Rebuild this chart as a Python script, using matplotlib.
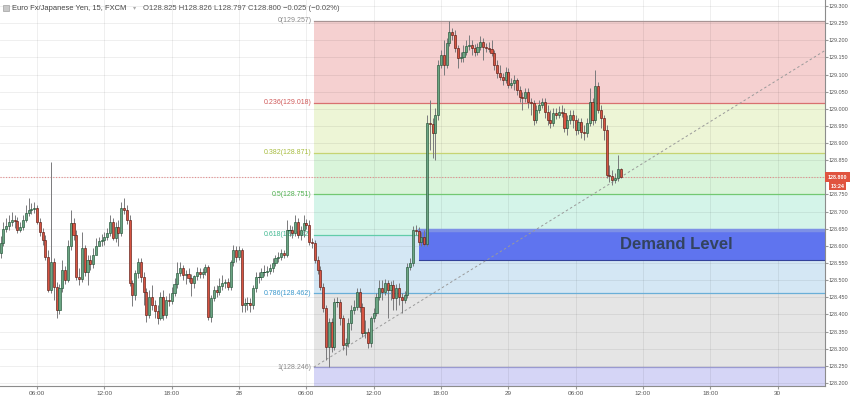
import matplotlib
matplotlib.use("Agg")
import matplotlib.pyplot as plt
import matplotlib.transforms as mtransforms
from matplotlib.collections import LineCollection
from matplotlib.patches import Rectangle
import pandas as pd

plt.rcParams['font.family'] = ['Liberation Sans', 'DejaVu Sans']

# ---------------- data ----------------
symbol_title = "Euro Fx/Japanese Yen, 15, FXCM"
ohlc_text = "O128.825  H128.826  L128.797  C128.800  \u22120.025 (\u22120.02%)"
first_bar = "2000-01-27 02:45"
bar_minutes = 15

opens = [
    128.579, 128.608, 128.649, 128.658, 128.670, 128.675, 128.673, 128.646, 128.655, 128.675,
    128.696, 128.705, 128.708, 128.710, 128.670, 128.641, 128.617, 128.568, 128.471, 128.553,
    128.480, 128.413, 128.477, 128.530, 128.500, 128.600, 128.667, 128.632, 128.509, 128.503,
    128.594, 128.524, 128.559, 128.547, 128.573, 128.600, 128.614, 128.617, 128.626, 128.638,
    128.670, 128.623, 128.655, 128.638, 128.710, 128.705, 128.675, 128.492, 128.457, 128.521,
    128.553, 128.509, 128.465, 128.398, 128.451, 128.428, 128.410, 128.390, 128.451, 128.398,
    128.442, 128.439, 128.462, 128.489, 128.521, 128.535, 128.515, 128.518, 128.506, 128.492,
    128.512, 128.524, 128.518, 128.524, 128.538, 128.392, 128.448, 128.471, 128.465, 128.483,
    128.492, 128.495, 128.480, 128.553, 128.588, 128.568, 128.588, 128.428, 128.433, 128.433,
    128.428, 128.477, 128.509, 128.509, 128.524, 128.524, 128.527, 128.535, 128.550, 128.565,
    128.568, 128.579, 128.573, 128.646, 128.646, 128.638, 128.670, 128.632, 128.646, 128.667,
    128.661, 128.611, 128.608, 128.559, 128.530, 128.480, 128.419, 128.305, 128.378, 128.305,
    128.436, 128.436, 128.390, 128.311, 128.317, 128.375, 128.413, 128.422, 128.465, 128.422,
    128.346, 128.349, 128.317, 128.390, 128.404, 128.451, 128.477, 128.465, 128.492, 128.471,
    128.486, 128.448, 128.477, 128.451, 128.442, 128.457, 128.538, 128.550, 128.646, 128.643,
    128.611, 128.626, 128.605, 128.959, 128.956, 128.929, 128.982, 129.128, 129.157, 129.128,
    129.192, 129.224, 129.215, 129.177, 129.148, 129.151, 129.166, 129.183, 129.186, 129.177,
    129.166, 129.180, 129.195, 129.180, 129.178, 129.175, 129.163, 129.128, 129.104, 129.093,
    129.084, 129.107, 129.069, 129.075, 129.084, 129.055, 129.034, 129.031, 129.049, 129.020,
    129.017, 128.967, 128.997, 129.011, 129.020, 128.991, 128.967, 128.959, 128.988, 128.982,
    128.991, 128.988, 128.944, 128.967, 128.982, 128.967, 128.938, 128.961, 128.932, 128.929,
    128.959, 129.020, 128.967, 129.067, 128.997, 128.973, 128.938, 128.807, 128.805, 128.792,
    128.798, 128.825,
]
highs = [
    128.629, 128.670, 128.681, 128.690, 128.699, 128.690, 128.684, 128.670, 128.690, 128.719,
    128.740, 128.725, 128.728, 128.719, 128.681, 128.652, 128.632, 128.588, 128.845, 128.565,
    128.495, 128.489, 128.559, 128.541, 128.617, 128.705, 128.681, 128.646, 128.535, 128.641,
    128.603, 128.573, 128.573, 128.594, 128.623, 128.626, 128.635, 128.641, 128.652, 128.690,
    128.681, 128.670, 128.675, 128.728, 128.740, 128.719, 128.690, 128.500, 128.530, 128.565,
    128.565, 128.524, 128.477, 128.471, 128.486, 128.442, 128.428, 128.465, 128.471, 128.454,
    128.462, 128.480, 128.506, 128.553, 128.553, 128.544, 128.530, 128.535, 128.518, 128.515,
    128.538, 128.535, 128.535, 128.547, 128.544, 128.457, 128.483, 128.486, 128.506, 128.515,
    128.503, 128.506, 128.559, 128.603, 128.600, 128.600, 128.594, 128.448, 128.451, 128.448,
    128.486, 128.524, 128.524, 128.535, 128.544, 128.541, 128.547, 128.565, 128.573, 128.582,
    128.591, 128.588, 128.675, 128.661, 128.658, 128.690, 128.681, 128.658, 128.690, 128.678,
    128.675, 128.623, 128.617, 128.570, 128.541, 128.492, 128.428, 128.390, 128.390, 128.448,
    128.451, 128.445, 128.398, 128.331, 128.390, 128.428, 128.442, 128.477, 128.477, 128.433,
    128.384, 128.360, 128.395, 128.419, 128.462, 128.500, 128.500, 128.503, 128.500, 128.498,
    128.500, 128.489, 128.492, 128.462, 128.468, 128.550, 128.565, 128.658, 128.661, 128.655,
    128.641, 128.646, 128.982, 129.026, 128.973, 129.002, 129.142, 129.172, 129.201, 129.207,
    129.257, 129.236, 129.230, 129.186, 129.166, 129.186, 129.201, 129.215, 129.201, 129.189,
    129.192, 129.212, 129.207, 129.192, 129.195, 129.201, 129.172, 129.142, 129.128, 129.104,
    129.122, 129.119, 129.090, 129.099, 129.090, 129.067, 129.049, 129.061, 129.061, 129.031,
    129.026, 129.011, 129.026, 129.031, 129.031, 129.011, 128.997, 129.002, 129.002, 129.008,
    129.011, 129.002, 128.982, 128.997, 128.997, 128.982, 128.973, 128.973, 128.953, 128.973,
    129.061, 129.031, 129.113, 129.078, 129.011, 128.982, 128.953, 128.836, 128.821, 128.813,
    128.865, 128.826,
]
lows = [
    128.565, 128.600, 128.641, 128.646, 128.658, 128.652, 128.638, 128.641, 128.646, 128.670,
    128.687, 128.693, 128.696, 128.664, 128.629, 128.603, 128.559, 128.465, 128.462, 128.442,
    128.390, 128.401, 128.465, 128.489, 128.495, 128.588, 128.617, 128.500, 128.486, 128.495,
    128.512, 128.486, 128.530, 128.535, 128.588, 128.603, 128.600, 128.603, 128.617, 128.629,
    128.617, 128.611, 128.600, 128.629, 128.693, 128.664, 128.483, 128.425, 128.442, 128.506,
    128.495, 128.428, 128.378, 128.390, 128.413, 128.390, 128.372, 128.384, 128.384, 128.390,
    128.425, 128.430, 128.454, 128.477, 128.512, 128.500, 128.489, 128.495, 128.454, 128.477,
    128.500, 128.506, 128.506, 128.515, 128.384, 128.378, 128.439, 128.451, 128.457, 128.471,
    128.477, 128.471, 128.471, 128.541, 128.553, 128.559, 128.407, 128.407, 128.413, 128.407,
    128.416, 128.465, 128.492, 128.500, 128.512, 128.512, 128.518, 128.524, 128.541, 128.553,
    128.559, 128.565, 128.568, 128.629, 128.623, 128.629, 128.623, 128.617, 128.626, 128.649,
    128.603, 128.594, 128.550, 128.518, 128.471, 128.407, 128.267, 128.246, 128.290, 128.296,
    128.422, 128.369, 128.296, 128.282, 128.305, 128.355, 128.401, 128.413, 128.407, 128.334,
    128.331, 128.302, 128.305, 128.378, 128.395, 128.442, 128.442, 128.457, 128.390, 128.442,
    128.413, 128.413, 128.428, 128.404, 128.433, 128.448, 128.530, 128.541, 128.632, 128.603,
    128.600, 128.600, 128.600, 128.880, 128.856, 128.851, 128.967, 129.119, 129.099, 129.119,
    129.183, 129.201, 129.166, 129.119, 129.137, 129.137, 129.157, 129.172, 129.157, 129.154,
    129.157, 129.172, 129.142, 129.166, 129.166, 129.154, 129.113, 129.090, 129.084, 129.069,
    129.075, 129.061, 129.061, 129.055, 129.040, 129.020, 128.997, 129.020, 129.002, 128.982,
    128.953, 128.959, 128.988, 129.002, 128.973, 128.953, 128.944, 128.950, 128.970, 128.973,
    128.976, 128.932, 128.924, 128.956, 128.944, 128.924, 128.926, 128.915, 128.909, 128.918,
    128.950, 128.953, 128.959, 128.988, 128.944, 128.909, 128.798, 128.786, 128.778, 128.783,
    128.790, 128.797,
]
closes = [
    128.608, 128.649, 128.658, 128.670, 128.675, 128.673, 128.646, 128.655, 128.675, 128.696,
    128.705, 128.708, 128.710, 128.670, 128.641, 128.617, 128.568, 128.471, 128.553, 128.480,
    128.413, 128.477, 128.530, 128.500, 128.600, 128.667, 128.632, 128.509, 128.503, 128.594,
    128.524, 128.559, 128.547, 128.573, 128.600, 128.614, 128.617, 128.626, 128.638, 128.670,
    128.623, 128.655, 128.638, 128.710, 128.705, 128.675, 128.492, 128.457, 128.521, 128.553,
    128.509, 128.465, 128.398, 128.451, 128.428, 128.410, 128.390, 128.451, 128.398, 128.442,
    128.439, 128.462, 128.489, 128.521, 128.535, 128.515, 128.518, 128.506, 128.492, 128.512,
    128.524, 128.518, 128.524, 128.538, 128.392, 128.448, 128.471, 128.465, 128.483, 128.492,
    128.495, 128.480, 128.553, 128.588, 128.568, 128.588, 128.428, 128.433, 128.433, 128.428,
    128.477, 128.509, 128.509, 128.524, 128.524, 128.527, 128.535, 128.550, 128.565, 128.568,
    128.579, 128.573, 128.646, 128.646, 128.638, 128.670, 128.632, 128.646, 128.667, 128.661,
    128.611, 128.608, 128.559, 128.530, 128.480, 128.419, 128.305, 128.378, 128.305, 128.436,
    128.436, 128.390, 128.311, 128.317, 128.375, 128.413, 128.422, 128.465, 128.422, 128.346,
    128.349, 128.317, 128.390, 128.404, 128.451, 128.477, 128.465, 128.492, 128.471, 128.486,
    128.448, 128.477, 128.451, 128.442, 128.457, 128.538, 128.550, 128.646, 128.643, 128.611,
    128.626, 128.605, 128.959, 128.956, 128.929, 128.982, 129.128, 129.157, 129.128, 129.192,
    129.224, 129.215, 129.177, 129.148, 129.151, 129.166, 129.183, 129.186, 129.177, 129.166,
    129.180, 129.195, 129.180, 129.178, 129.175, 129.163, 129.128, 129.104, 129.093, 129.084,
    129.107, 129.069, 129.075, 129.084, 129.055, 129.034, 129.031, 129.049, 129.020, 129.017,
    128.967, 128.997, 129.011, 129.020, 128.991, 128.967, 128.959, 128.988, 128.982, 128.991,
    128.988, 128.944, 128.967, 128.982, 128.967, 128.938, 128.961, 128.932, 128.929, 128.959,
    129.020, 128.967, 129.067, 128.997, 128.973, 128.938, 128.807, 128.805, 128.792, 128.798,
    128.825, 128.800,
]

tick_times = ["2000-01-27 06:00", "2000-01-27 12:00", "2000-01-27 18:00", "2000-01-28 00:00",
              "2000-01-28 06:00", "2000-01-28 12:00", "2000-01-28 18:00", "2000-01-29 00:00",
              "2000-01-29 06:00", "2000-01-29 12:00", "2000-01-29 18:00", "2000-01-30 00:00"]
tick_labels = ["06:00", "12:00", "18:00", "28", "06:00", "12:00", "18:00", "29",
               "06:00", "12:00", "18:00", "30"]
price_ticks = [128.200, 128.250, 128.300, 128.350, 128.400, 128.450, 128.500, 128.550,
               128.600, 128.650, 128.700, 128.750, 128.800, 128.850, 128.900, 128.950,
               129.000, 129.050, 129.100, 129.150, 129.200, 129.250, 129.300]
price_tick_labels = ["128.200", "128.250", "128.300", "128.350", "128.400", "128.450",
                     "128.500", "128.550", "128.600", "128.650", "128.700", "128.750",
                     "128.800", "128.850", "128.900", "128.950", "129.000", "129.050",
                     "129.100", "129.150", "129.200", "129.250", "129.300"]

view_start = "2000-01-27 02:42"
view_end = "2000-01-30 04:13"
price_low, price_high = 128.191, 129.3175

fib_ratio_labels = ["0", "0.236", "0.382", "0.5", "0.618", "0.786", "1"]
fib_prices = [129.257, 129.018, 128.871, 128.751, 128.632, 128.462, 128.246]
fib_start = "2000-01-28 06:40"
trend_end = "2000-01-30 08:30"

demand_start = "2000-01-28 16:00"
demand_top = 128.645
demand_bottom = 128.560
demand_label = "Demand Level"

last_price = 128.800
countdown = "13:24"

# ---------------- styles ----------------
zone_colors = ['#f5d0d0', '#edf5d6', '#d9f4da', '#d4f4e9', '#d4e7f4', '#e5e5e5', '#d5d5f6']
fib_line_colors = ['#a89494', '#d87070', '#c6d472', '#72c872', '#62ccaa', '#6aafd8', '#9a9ad0']
fib_text_colors = ['#8a8a8a', '#d05a5a', '#a8bc40', '#4fb04f', '#3fb890', '#3a98cc', '#8a8a8a']
up_face, up_edge = '#6ba583', '#225437'
dn_face, dn_edge = '#d75442', '#5b1a13'

t0 = pd.Timestamp(first_bar)
step = pd.Timedelta(minutes=bar_minutes)


def tx(t):
    return (pd.Timestamp(t) - t0) / step


W, H = 850, 401
fig = plt.figure(figsize=(W / 100, H / 100), dpi=100)
ax = fig.add_axes([0, 15 / H, 825 / W, 386 / H])
ax.set_xlim(tx(view_start), tx(view_end))
ax.set_ylim(price_low, price_high)
xmax = tx(view_end)

# fib zones
fx = tx(fib_start)
bounds = fib_prices + [price_low]
for i in range(len(bounds) - 1):
    ax.add_patch(Rectangle((fx, bounds[i + 1]), xmax - fx, bounds[i] - bounds[i + 1],
                           facecolor=zone_colors[i], edgecolor='none', zorder=0.2))
for i, p in enumerate(fib_prices):
    ax.plot([fx, xmax], [p, p], color=fib_line_colors[i], lw=0.9, zorder=1.2)
    ax.annotate(f"{fib_ratio_labels[i]}({p:.3f})", xy=(fx, p), xytext=(-1.5, 0),
                textcoords='offset points', ha='right', va='center',
                fontsize=5.0, color=fib_text_colors[i], zorder=1.3)

# grid
ax.set_xticks([tx(t) for t in tick_times])
ax.set_xticklabels(tick_labels)
ax.set_yticks(price_ticks)
ax.set_yticklabels(price_tick_labels)
ax.set_axisbelow(True)
ax.grid(True, color='black', alpha=0.075, lw=0.6)

# demand box
dx = tx(demand_start)
ax.add_patch(Rectangle((dx, demand_bottom), xmax - dx, demand_top - demand_bottom,
                       facecolor='#5f74ef', edgecolor='none', zorder=1.5))
ax.plot([dx, xmax], [demand_bottom, demand_bottom], color='#34439a', lw=0.8, zorder=1.6)
ax.plot([dx, xmax], [demand_top, demand_top], color='#7d90e6', lw=2.5, zorder=1.6)
trans_blend = mtransforms.blended_transform_factory(ax.transAxes, ax.transData)
ax.text(676 / 825, (demand_top + demand_bottom) / 2, demand_label, transform=trans_blend,
        ha='center', va='center', fontsize=12, fontweight='bold', color='#33435f', zorder=5)

# trend line (fib anchors)
ax.plot([fx, tx(trend_end)], [fib_prices[-1], fib_prices[0]], color='#9a9a9a', lw=0.7,
        ls=(0, (2.5, 2.5)), zorder=2)

# last price line
ax.axhline(last_price, color='#e38c8c', lw=0.8, ls=(0, (1, 1.5)), zorder=2)

# candles
xs = list(range(len(closes)))
wicks = [[(x, lows[x]), (x, highs[x])] for x in xs]
ax.add_collection(LineCollection(wicks, colors='#7a7a7c', linewidths=0.7, zorder=3))
for x in xs:
    o, c = opens[x], closes[x]
    up = c >= o
    if abs(c - o) < 0.0006:
        ax.plot([x - 0.38, x + 0.38], [c, c], color=up_edge if up else dn_edge, lw=0.7, zorder=4)
        continue
    ax.bar(x, abs(c - o), bottom=min(o, c), width=0.74,
           color=up_face if up else dn_face, edgecolor=up_edge if up else dn_edge,
           linewidth=0.45, zorder=4)

# axes styling
for s in ['top', 'left']:
    ax.spines[s].set_visible(False)
for s in ['right', 'bottom']:
    ax.spines[s].set_color('#8c8c8c')
    ax.spines[s].set_linewidth(0.8)
ax.yaxis.tick_right()
ax.tick_params(axis='y', labelsize=3.9, labelcolor='#555555', color='#999999', length=2, pad=0.8)
ax.tick_params(axis='x', labelsize=4.6, labelcolor='#555555', color='#999999', length=2, pad=1.5)
# the last-price tag covers the tick label at the same level, as in the reference
for p, lab in zip(price_ticks, ax.get_yticklabels()):
    if abs(p - last_price) < 1e-9:
        lab.set_visible(False)

# price tags on the axis
tag_x = 837.5 / 825
ax.text(tag_x, last_price, f"{last_price:.3f}", transform=trans_blend, ha='center', va='center',
        fontsize=3.9, color='white', fontweight='bold', zorder=10, clip_on=False,
        bbox=dict(boxstyle='square,pad=0.45', fc='#e0533f', ec='none'))
ax.annotate(countdown, xy=(tag_x, last_price), xycoords=trans_blend, xytext=(0, -6.3),
            textcoords='offset points', ha='center', va='center', fontsize=3.9,
            color='white', fontweight='bold', annotation_clip=False, zorder=10,
            bbox=dict(boxstyle='square,pad=0.35', fc='#e0533f', ec='none'))

# header
fig.patches.append(Rectangle((3 / W, 1 - 11 / H), 6 / W, 6 / H, transform=fig.transFigure,
                             facecolor='#c8c8c8', edgecolor='#a0a0a0', lw=0.5))
fig.text(12 / W, 1 - 8 / H, symbol_title, ha='left', va='center', fontsize=5.4, color='#444444')
fig.text(133 / W, 1 - 8 / H, "\u25be", ha='left', va='center', fontsize=4.5, color='#aaaaaa',
         family='DejaVu Sans')
fig.text(143 / W, 1 - 8 / H, ohlc_text.replace("  ", " "), ha='left', va='center',
         fontsize=5.5, color='#555555')

fig.savefig("out.png", dpi=100, facecolor='white')
